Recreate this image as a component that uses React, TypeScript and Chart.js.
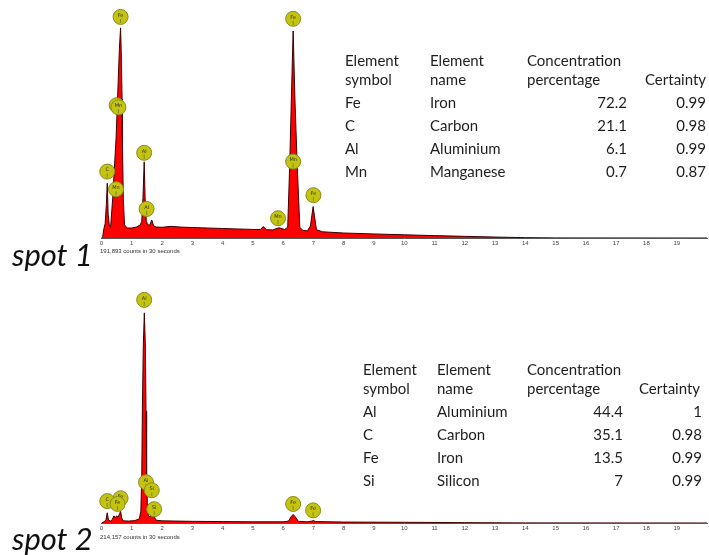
import React, { useEffect, useRef } from 'react';
import { Chart, registerables } from 'chart.js';

Chart.register(...registerables);

// ---------- spot 1 spectrum (energy keV, relative counts) ----------
const spot1Energy = [0, 0.04, 0.08, 0.12, 0.16, 0.19, 0.22, 0.26, 0.3, 0.37, 0.48, 0.53, 0.59, 0.63, 0.65, 0.68, 0.69, 0.72, 0.76, 0.85, 1.0, 1.15, 1.28, 1.33, 1.37, 1.41, 1.44, 1.48, 1.53, 1.6, 1.66, 1.72, 1.8, 2.0, 2.3, 2.6, 3.0, 3.5, 4.0, 4.5, 5.0, 5.25, 5.34, 5.45, 5.65, 5.86, 6.05, 6.15, 6.22, 6.27, 6.33, 6.39, 6.46, 6.55, 6.65, 6.8, 6.9, 6.99, 7.1, 7.3, 8, 9, 10, 11, 12, 13, 14, 15, 16, 20];
const spot1Counts = [0, 0.5, 4, 6, 14, 23, 10, 5, 4.5, 16.7, 41.7, 58.3, 79.2, 88.3, 79.2, 58.3, 41.7, 16.7, 5.5, 4.2, 4.2, 4.6, 5.5, 7, 17, 32, 17, 7, 5.5, 5.5, 7.6, 5.2, 4.6, 4.5, 4.9, 4.6, 4.4, 4.2, 4.0, 3.8, 3.6, 3.6, 4.8, 3.5, 3.4, 4.3, 3.6, 4.5, 32, 58, 87, 58, 32, 4.5, 3.2, 3.0, 5, 13.2, 3.5, 2.6, 2.1, 1.7, 1.35, 1.0, 0.7, 0.4, 0.15, 0.05, 0.02, 0];

const spot1LabelEl = ['Fe', '', 'Mn', 'C', 'Mn', 'Al', 'Al', 'Mn', 'Fe', 'Mn', 'Fe'];
const spot1LabelX = [0.63, 0.5, 0.56, 0.19, 0.48, 1.41, 1.49, 5.83, 6.33, 6.33, 7.0];
const spot1LabelY = [92.9, 55.8, 54.9, 27.9, 20.5, 35.8, 12.2, 8.3, 92.1, 32.1, 18.0];

// ---------- spot 2 spectrum ----------
const spot2Energy = [0, 0.05, 0.1, 0.15, 0.19, 0.23, 0.3, 0.36, 0.41, 0.45, 0.5, 0.55, 0.6, 0.63, 0.67, 0.72, 0.9, 1.1, 1.25, 1.3, 1.33, 1.35, 1.38, 1.415, 1.45, 1.47, 1.49, 1.52, 1.56, 1.6, 1.66, 1.72, 1.8, 2.0, 3.0, 4.0, 5.0, 6.0, 6.18, 6.26, 6.33, 6.4, 6.5, 6.8, 6.95, 7.0, 7.08, 8, 10, 12, 14, 20];
const spot2Counts = [0, 0.3, 0.6, 1.5, 4.3, 1.2, 0.8, 1.5, 3, 2.2, 3, 2.4, 4, 5, 2, 0.9, 0.8, 1.0, 1.8, 5, 20, 47, 74, 88.3, 74, 47, 20, 5, 3, 2.5, 3.8, 3.4, 1.2, 0.9, 0.7, 0.6, 0.5, 0.5, 0.8, 2.6, 3.6, 2.6, 0.7, 0.5, 0.8, 1.0, 0.6, 0.4, 0.3, 0.15, 0.05, 0];

const spot2LabelEl = ['Al', 'Fe', 'C', 'Fe', 'Al', 'Si', 'Si', 'Fe', 'Fe'];
const spot2LabelX = [1.41, 0.63, 0.19, 0.53, 1.47, 1.66, 1.74, 6.33, 6.99];
const spot2LabelY = [93.75, 10.4, 9.2, 8.0, 17.1, 13.75, 5.8, 8.0, 5.3];

// ---------- tables ----------
const tableHeader1 = ['Element', 'Element', 'Concentration', ''];
const tableHeader2 = ['symbol', 'name', 'percentage', 'Certainty'];

const spot1Symbols = ['Fe', 'C', 'Al', 'Mn'];
const spot1Names = ['Iron', 'Carbon', 'Aluminium', 'Manganese'];
const spot1Conc = ['72.2', '21.1', '6.1', '0.7'];
const spot1Cert = ['0.99', '0.98', '0.99', '0.87'];

const spot2Symbols = ['Al', 'C', 'Fe', 'Si'];
const spot2Names = ['Aluminium', 'Carbon', 'Iron', 'Silicon'];
const spot2Conc = ['44.4', '35.1', '13.5', '7'];
const spot2Cert = ['1', '0.98', '0.99', '0.99'];

const spot1Counts_text = '191,893 counts in 30 seconds';
const spot2Counts_text = '214,157 counts in 30 seconds';

function makeLabelPlugin(els: string[], xs: number[], ys: number[]) {
  return {
    id: 'peakLabels',
    afterDatasetsDraw(chart: any) {
      const { ctx, scales } = chart;
      const sx = scales.x;
      const sy = scales.y;
      ctx.save();
      els.forEach((el, i) => {
        const px = sx.getPixelForValue(xs[i]);
        const py = sy.getPixelForValue(ys[i]);
        ctx.beginPath();
        ctx.arc(px, py, 7.5, 0, Math.PI * 2);
        ctx.fillStyle = '#c4c40e';
        ctx.fill();
        ctx.lineWidth = 1;
        ctx.strokeStyle = '#8a8a20';
        ctx.stroke();
        if (el) {
          ctx.fillStyle = '#2b2b2b';
          ctx.font = '5px "DejaVu Sans"';
          ctx.textAlign = 'center';
          ctx.textBaseline = 'middle';
          ctx.fillText(el, px, py - 1.5);
        }
        ctx.beginPath();
        ctx.moveTo(px, py + 2);
        ctx.lineTo(px, py + 6);
        ctx.strokeStyle = '#555';
        ctx.lineWidth = 0.6;
        ctx.stroke();
      });
      ctx.restore();
    },
  };
}

function Spectrum(props: {
  top: number; height: number; padBottom: number;
  energy: number[]; counts: number[];
  labEl: string[]; labX: number[]; labY: number[];
}) {
  const ref = useRef<HTMLCanvasElement>(null);
  useEffect(() => {
    const data = props.energy.map((e, i) => ({ x: e, y: props.counts[i] }));
    const chart = new Chart(ref.current as HTMLCanvasElement, {
      type: 'line',
      data: {
        datasets: [{
          data,
          borderColor: '#3d0000',
          borderWidth: 1,
          backgroundColor: '#ff0000',
          fill: 'origin',
          pointRadius: 0,
          tension: 0,
        }],
      },
      options: {
        animation: false,
        responsive: false,
        maintainAspectRatio: false,
        layout: { padding: { left: 101.5, right: 1.5, top: 0, bottom: props.padBottom } },
        plugins: { legend: { display: false }, tooltip: { enabled: false } },
        scales: {
          x: {
            type: 'linear',
            min: 0,
            max: 20,
            ticks: {
              stepSize: 1,
              autoSkip: false,
              maxRotation: 0,
              padding: 2,
              color: '#444',
              font: { size: 6, family: 'Liberation Sans' },
              callback: (v: any) => (v === 20 ? '' : String(v)),
            },
            grid: { display: false, drawTicks: false },
            border: { display: true, color: '#555', width: 1 },
          },
          y: { display: false, min: 0, max: 100 },
        },
      } as any,
      plugins: [makeLabelPlugin(props.labEl, props.labX, props.labY)],
    });
    return () => chart.destroy();
  }, []);
  return (
    <canvas
      ref={ref}
      width={709}
      height={props.height}
      style={{ position: 'absolute', left: 0, top: props.top, width: 709, height: props.height }}
    />
  );
}

const textStyle: React.CSSProperties = {
  position: 'absolute',
  fontFamily: 'Lato, "Open Sans", sans-serif',
  fontSize: 15,
  lineHeight: '18px',
  color: '#1e1e1e',
  whiteSpace: 'nowrap',
};

function Table(props: {
  cols: number[]; concRight: number; certRight: number; certHeadLeft: number; rowTops: number[];
  symbols: string[]; names: string[]; conc: string[]; cert: string[];
}) {
  const { cols, concRight, certRight, certHeadLeft, rowTops } = props;
  const out: any[] = [];
  tableHeader1.forEach((t, i) => {
    if (t) out.push(<span key={'h1' + i} style={{ ...textStyle, left: cols[i], top: rowTops[0] }}>{t}</span>);
  });
  tableHeader2.forEach((t, i) => {
    const left = i === 3 ? certHeadLeft : cols[i];
    out.push(<span key={'h2' + i} style={{ ...textStyle, left, top: rowTops[1] }}>{t}</span>);
  });
  props.symbols.forEach((s, r) => {
    const top = rowTops[r + 2];
    out.push(<span key={'s' + r} style={{ ...textStyle, left: cols[0], top }}>{s}</span>);
    out.push(<span key={'n' + r} style={{ ...textStyle, left: cols[1], top }}>{props.names[r]}</span>);
    out.push(<span key={'c' + r} style={{ ...textStyle, right: 709 - concRight, top, textAlign: 'right' }}>{props.conc[r]}</span>);
    out.push(<span key={'e' + r} style={{ ...textStyle, right: 709 - certRight, top, textAlign: 'right' }}>{props.cert[r]}</span>);
  });
  return <>{out}</>;
}

export default function App() {
  return (
    <div style={{ position: 'absolute', left: 0, top: 0, width: 709, height: 555, background: '#fff', overflow: 'hidden' }}>
      <Spectrum top={0} height={260} padBottom={10.8}
        energy={spot1Energy} counts={spot1Counts}
        labEl={spot1LabelEl} labX={spot1LabelX} labY={spot1LabelY} />
      <Spectrum top={285} height={270} padBottom={20.8}
        energy={spot2Energy} counts={spot2Counts}
        labEl={spot2LabelEl} labX={spot2LabelX} labY={spot2LabelY} />

      <span style={{ position: 'absolute', left: 100, top: 248, fontFamily: 'Liberation Sans', fontSize: 6, lineHeight: '7px', color: '#333', whiteSpace: 'nowrap' }}>{spot1Counts_text}</span>
      <span style={{ position: 'absolute', left: 100, top: 534, fontFamily: 'Liberation Sans', fontSize: 6, lineHeight: '7px', color: '#333', whiteSpace: 'nowrap' }}>{spot2Counts_text}</span>

      <span style={{ position: 'absolute', left: 12, top: 239, fontFamily: 'Lato, sans-serif', fontStyle: 'italic', fontSize: 31, lineHeight: '30px', color: '#111', whiteSpace: 'nowrap' }}>spot 1</span>
      <span style={{ position: 'absolute', left: 12, top: 523, fontFamily: 'Lato, sans-serif', fontStyle: 'italic', fontSize: 31, lineHeight: '30px', color: '#111', whiteSpace: 'nowrap' }}>spot 2</span>

      <Table cols={[345, 430, 527]} concRight={627} certRight={706} certHeadLeft={645}
        rowTops={[51, 70, 93, 116, 139, 162]}
        symbols={spot1Symbols} names={spot1Names} conc={spot1Conc} cert={spot1Cert} />
      <Table cols={[363, 437, 527]} concRight={623} certRight={702} certHeadLeft={639}
        rowTops={[360, 379, 402, 425, 448, 471]}
        symbols={spot2Symbols} names={spot2Names} conc={spot2Conc} cert={spot2Cert} />
    </div>
  );
}
